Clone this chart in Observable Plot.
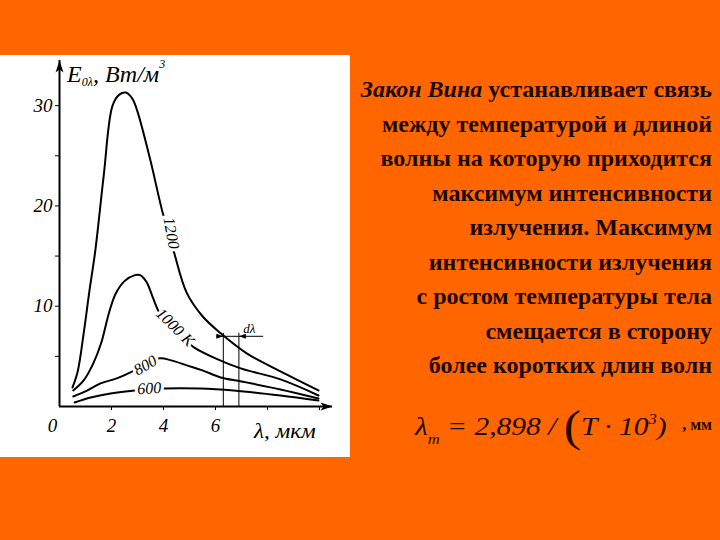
<!DOCTYPE html>
<html><head><meta charset="utf-8">
<script src="https://cdn.jsdelivr.net/npm/d3@7"></script>
<script src="https://cdn.jsdelivr.net/npm/@observablehq/plot@0.6"></script>
<style>
html,body{margin:0;padding:0;}
body{width:720px;height:540px;background:#ff6600;position:relative;overflow:hidden;font-family:"Liberation Serif","Times New Roman",serif;}
#panel{position:absolute;left:0;top:55px;width:350px;height:402px;background:#fff;}
#chart{position:absolute;left:0;top:0;}
#ylabel{position:absolute;left:67px;top:3px;font-style:italic;font-size:24px;white-space:nowrap;color:#000;line-height:1;}
#ylabel sub{font-size:12px;vertical-align:-4px;}
#ylabel sup{font-size:12px;vertical-align:14px;}
#xlabel{position:absolute;left:254px;top:365px;font-style:italic;font-size:22px;white-space:nowrap;color:#000;line-height:1;transform:scaleX(1.05);transform-origin:left;}
#text{position:absolute;right:8px;top:72px;text-align:right;font-weight:bold;font-size:24px;line-height:34.5px;color:#1c0800;white-space:nowrap;}
#formula{position:absolute;left:415px;top:405px;font-style:italic;font-size:25px;color:#1c0800;white-space:nowrap;line-height:1;transform:scaleX(1.18);transform-origin:left;}
#formula .big{font-size:44px;font-style:normal;vertical-align:-6px;}
#formula sub{font-size:14px;vertical-align:-9px;}
#formula sup{font-size:14px;vertical-align:11px;}
#unit{position:absolute;right:8px;top:416px;font-weight:bold;font-size:16px;color:#1c0800;}
</style></head>
<body>
<div id="panel">
  <div id="chart"></div>
  <div id="ylabel">E<sub>0λ</sub>, Вт/м<sup>3</sup></div>
  <div id="xlabel">λ, мкм</div>
</div>
<div id="text">
  <div><i>Закон Вина</i> устанавливает связь</div>
  <div>между температурой и длиной</div>
  <div>волны на которую приходится</div>
  <div>максимум интенсивности</div>
  <div>излучения. Максимум</div>
  <div>интенсивности излучения</div>
  <div>с ростом температуры тела</div>
  <div>смещается в сторону</div>
  <div>более коротких длин волн</div>
</div>
<div id="formula">λ<sub>m</sub> = 2,898 / <span class="big">(</span>T · 10<sup>3</sup>)</div>
<div id="unit">, мм</div>
<script>
// Data (λ in µm, E in W/m³ units of the plot)
const lam1200 = [0.5, 0.7, 0.93, 1.15, 1.38, 1.7, 2.04, 2.3, 2.55, 2.8, 3.0, 3.5, 3.96, 4.38, 4.9, 5.5, 6.2, 7.2, 8.5, 9.96];
const e1200   = [1.9, 3.5, 7.3, 11.5, 15.6, 23, 30, 31.1, 31.3, 30.7, 29.4, 24.5, 19.4, 15.6, 11.3, 9.0, 7.3, 5.3, 3.5, 1.6];
const lam1000 = [0.53, 0.93, 1.3, 1.6, 1.9, 2.15, 2.5, 2.9, 3.1, 3.35, 3.6, 3.85, 4.4, 5.17, 6.0, 6.97, 8.5, 9.96];
const e1000   = [1.6, 2.6, 4.3, 6.3, 9.3, 11.2, 12.5, 13.1, 13.1, 12.4, 10.8, 9.3, 7.5, 5.9, 4.8, 3.8, 2.7, 1.1];
const lam800  = [0.53, 1.0, 1.58, 2.2, 2.73, 3.3, 3.85, 4.3, 4.9, 5.5, 6.2, 7.0, 8.5, 9.96];
const e800    = [1.0, 1.5, 2.3, 2.8, 3.4, 4.2, 4.8, 4.6, 4.1, 3.6, 2.9, 2.5, 1.7, 0.8];
const lam600  = [0.58, 1.2, 1.96, 2.9, 4.0, 5.4, 6.7, 8.5, 9.96];
const e600    = [0.4, 0.9, 1.3, 1.6, 1.8, 1.8, 1.6, 1.1, 0.6];

const curveNames  = ["1200", "1000 K", "800", "600"];
const labelLam    = [4.3, 4.45, 3.3, 3.45];
const labelE      = [17.3, 7.9, 4.1, 1.8];
const labelAngle  = [80, 45, -30, -3];

const yTicks = [5, 10, 15, 20, 25, 30];
const yTickLabels = [10, 20, 30];
const xTicks = [2, 4, 6, 8, 10];
const xTickLabels = [2, 4, 6];
const xMax = 10.5, yMax = 34.5;

// dλ interval
const dLam = [6.3, 6.9];
const dLamTop = 7.3;
const dLamBar = 7.0;
const dLamBarExtent = [6.05, 7.85];

const toPts = (xs, ys, name) => xs.map((x, i) => ({x, y: ys[i], name}));
const curves = [
  ...toPts(lam1200, e1200, "1200"),
  ...toPts(lam1000, e1000, "1000"),
  ...toPts(lam800, e800, "800"),
  ...toPts(lam600, e600, "600")
];
const labels = curveNames.map((t, i) => ({t, x: labelLam[i], y: labelE[i], r: labelAngle[i]}));

const arrowHead = {draw(ctx) { ctx.moveTo(0, 0); ctx.lineTo(4, 12); ctx.lineTo(0, 9); ctx.lineTo(-4, 12); ctx.closePath(); }};
const smallHead = {draw(ctx) { ctx.moveTo(0, 0); ctx.lineTo(2.5, 7); ctx.lineTo(-2.5, 7); ctx.closePath(); }};

const chart = Plot.plot({
  width: 350, height: 402,
  marginLeft: 59, marginRight: 18, marginTop: 5, marginBottom: 51,
  x: {domain: [0, xMax]},
  y: {domain: [0, yMax]},
  style: {fontFamily: "Liberation Serif, serif", fontStyle: "italic", fontSize: "19px", color: "#000", background: "transparent", overflow: "visible"},
  marks: [
    Plot.axisY(yTicks, {tickSize: 4, tickPadding: 3, strokeWidth: 1, tickFormat: d => yTickLabels.includes(d) ? String(d) : "", label: null}),
    Plot.axisX(xTicks, {tickSize: 4, tickPadding: 8, tickFormat: d => xTickLabels.includes(d) ? String(d) : "", label: null}),
    Plot.axisX([0], {tickSize: 0, tickPadding: 12, dx: -7, tickFormat: d => String(d), label: null}),
    Plot.ruleX([0], {y1: 0, y2: yMax, strokeWidth: 2}),
    Plot.ruleY([0], {x1: 0, x2: xMax, strokeWidth: 2}),
    Plot.dot([{x: 0, y: yMax}], {x: "x", y: "y", symbol: arrowHead, fill: "black", stroke: null}),
    Plot.dot([{x: xMax, y: 0}], {x: "x", y: "y", symbol: arrowHead, rotate: 90, fill: "black", stroke: null}),
    Plot.line(curves, {x: "x", y: "y", z: "name", curve: "catmull-rom", strokeWidth: 2, stroke: "black"}),
    Plot.ruleX(dLam, {y1: 0, y2: dLamTop, strokeWidth: 1}),
    Plot.ruleY([dLamBar], {x1: dLamBarExtent[0], x2: dLamBarExtent[1], strokeWidth: 1}),
    Plot.dot([{x: dLam[0], y: dLamBar, r: 90}, {x: dLam[1], y: dLamBar, r: -90}], {x: "x", y: "y", rotate: "r", symbol: smallHead, fill: "black", stroke: null}),
    Plot.text(["dλ"], {x: 7.3, y: 7.75, text: d => d, fontSize: 13, fontStyle: "italic"}),
    Plot.text(labels, {x: "x", y: "y", text: "t", rotate: "r", fontSize: 16, fontStyle: "italic", fill: "black", stroke: "white", strokeWidth: 6})
  ]
});
document.getElementById("chart").append(chart);
</script>
</body></html>
